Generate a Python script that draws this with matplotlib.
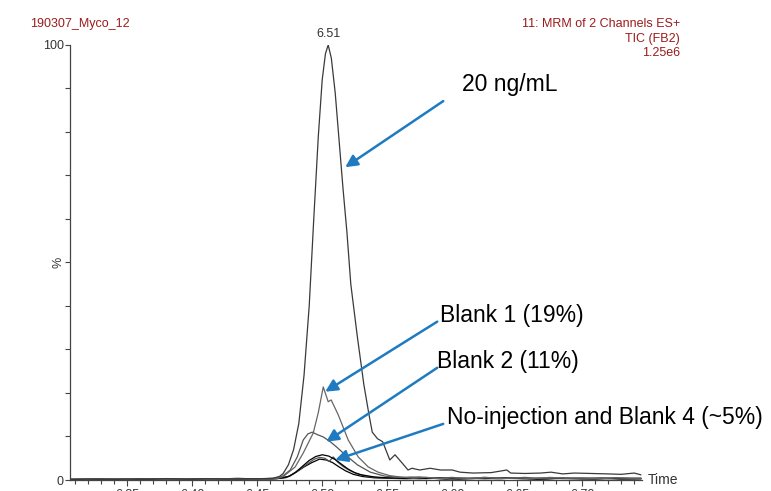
import matplotlib
matplotlib.use("Agg")
import matplotlib.pyplot as plt
from matplotlib.ticker import MultipleLocator, FixedLocator, NullFormatter

plt.rcParams['font.family'] = ['Liberation Sans', 'DejaVu Sans']

# 20 ng/mL standard
t_20 = [6.306, 6.320, 6.335, 6.350, 6.365, 6.380, 6.395, 6.410, 6.425, 6.440,
        6.452, 6.462, 6.467, 6.470, 6.474, 6.478, 6.482, 6.486, 6.490, 6.4935,
        6.497, 6.500, 6.5025, 6.5046, 6.507, 6.510, 6.513, 6.516, 6.519, 6.522,
        6.527, 6.532, 6.536, 6.5385, 6.5425, 6.5465, 6.552, 6.556, 6.5615, 6.566,
        6.569, 6.575, 6.583, 6.591, 6.600, 6.606, 6.616, 6.630, 6.642, 6.645,
        6.656, 6.668, 6.676, 6.685, 6.694, 6.707, 6.72, 6.73, 6.74, 6.745]
i_20 = [0.1, 0.2, 0.1, 0.2, 0.1, 0.3, 0.2, 0.3, 0.2, 0.3,
        0.3, 0.4, 0.8, 1.5, 3.5, 7.0, 13, 24, 40, 60,
        79, 92, 98, 100, 97, 89, 78, 67, 57, 45,
        33, 22, 15, 11, 9.5, 8.8, 4.6, 5.8, 3.9, 2.3,
        2.7, 2.3, 2.7, 2.3, 2.3, 1.8, 1.6, 1.7, 2.3, 1.6,
        1.5, 1.6, 1.8, 1.4, 1.6, 1.5, 1.4, 1.3, 1.6, 1.2]

# Blank 1
t_b1 = [6.306, 6.33, 6.36, 6.385, 6.40, 6.42, 6.44, 6.455, 6.465, 6.470,
        6.4792, 6.4854, 6.4931, 6.497, 6.5008, 6.5046, 6.5069, 6.5123, 6.520, 6.5277,
        6.5354, 6.543, 6.552, 6.56, 6.57, 6.58, 6.592, 6.60, 6.612, 6.625,
        6.638, 6.65, 6.662, 6.675, 6.688, 6.70, 6.712, 6.725, 6.738, 6.745]
i_b1 = [0.1, 0.2, 0.1, 0.2, 0.3, 0.1, 0.3, 0.2, 0.3, 0.8,
        3.0, 6.2, 10.8, 15.5, 21.4, 18.0, 18.4, 15.0, 9.2, 5.3,
        3.0, 1.8, 1.0, 0.7, 0.4, 0.6, 0.3, 0.5, 0.4, 0.6,
        0.3, 0.5, 0.3, 0.6, 0.4, 0.5, 0.3, 0.5, 0.4, 0.4]

# Blank 2
t_b2 = [6.306, 6.34, 6.37, 6.39, 6.41, 6.43, 6.45, 6.462, 6.466, 6.470,
        6.4754, 6.4808, 6.4854, 6.4890, 6.4923, 6.4965, 6.5008, 6.5062, 6.5110, 6.5162,
        6.527, 6.537, 6.548, 6.560, 6.575, 6.588, 6.60, 6.614, 6.628, 6.642,
        6.656, 6.67, 6.684, 6.698, 6.712, 6.726, 6.74, 6.745]
i_b2 = [0.2, 0.1, 0.2, 0.3, 0.2, 0.3, 0.2, 0.3, 0.5, 1.0,
        2.3, 5.3, 9.2, 10.6, 11.0, 10.4, 9.9, 8.8, 7.6, 6.2,
        3.5, 1.8, 0.9, 0.6, 0.7, 0.4, 0.6, 0.3, 0.5, 0.4,
        0.6, 0.3, 0.5, 0.4, 0.3, 0.5, 0.4, 0.4]

# No-injection
t_ni = [6.306, 6.33, 6.35, 6.37, 6.39, 6.405, 6.42, 6.44, 6.455, 6.465,
        6.470, 6.475, 6.480, 6.485, 6.490, 6.495, 6.500, 6.505, 6.510, 6.515,
        6.520, 6.525, 6.530, 6.540, 6.550, 6.562, 6.575, 6.59, 6.605, 6.62,
        6.635, 6.65, 6.665, 6.68, 6.695, 6.71, 6.725, 6.74, 6.745]
i_ni = [0.1, 0.2, 0.1, 0.2, 0.3, 0.1, 0.2, 0.3, 0.2, 0.3,
        0.5, 0.9, 1.9, 3.2, 4.5, 5.4, 5.8, 5.5, 4.7, 3.6,
        2.5, 1.7, 1.2, 0.7, 0.5, 0.4, 0.3, 0.5, 0.2, 0.4,
        0.3, 0.5, 0.2, 0.4, 0.3, 0.2, 0.4, 0.3, 0.3]

# Blank 3
t_b3 = [6.306, 6.34, 6.36, 6.38, 6.40, 6.42, 6.435, 6.45, 6.463, 6.472,
        6.478, 6.484, 6.490, 6.494, 6.498, 6.502, 6.5055, 6.5085, 6.512, 6.516,
        6.521, 6.527, 6.535, 6.545, 6.556, 6.568, 6.58, 6.595, 6.61, 6.625,
        6.64, 6.655, 6.67, 6.685, 6.70, 6.715, 6.73, 6.745]
i_b3 = [0.2, 0.1, 0.3, 0.2, 0.3, 0.2, 0.4, 0.2, 0.3, 0.5,
        1.4, 2.7, 4.0, 4.8, 5.2, 5.0, 4.3, 5.3, 4.1, 3.1,
        2.2, 1.4, 0.8, 0.5, 0.4, 0.6, 0.3, 0.5, 0.3, 0.6,
        0.4, 0.3, 0.5, 0.3, 0.4, 0.5, 0.3, 0.4]

# Blank 4
t_b4 = [6.306, 6.33, 6.355, 6.375, 6.395, 6.415, 6.435, 6.455, 6.466, 6.474,
        6.480, 6.486, 6.492, 6.498, 6.503, 6.508, 6.513, 6.518, 6.524, 6.531,
        6.54, 6.55, 6.565, 6.58, 6.595, 6.61, 6.625, 6.64, 6.655, 6.67,
        6.685, 6.70, 6.715, 6.73, 6.745]
i_b4 = [0.1, 0.2, 0.2, 0.1, 0.3, 0.2, 0.2, 0.3, 0.4, 0.8,
        1.8, 3.0, 4.0, 4.8, 4.6, 4.0, 3.0, 2.1, 1.3, 0.8,
        0.5, 0.4, 0.3, 0.5, 0.2, 0.4, 0.3, 0.5, 0.3, 0.2,
        0.4, 0.3, 0.4, 0.2, 0.3]

x_ticks = [6.35, 6.40, 6.45, 6.50, 6.55, 6.60, 6.65, 6.70]
x_ticklabels = ['6.35', '6.40', '6.45', '6.50', '6.55', '6.60', '6.65', '6.70']

dark_red = '#9c1c1c'
blue = '#1f7bc1'
axcol = '#444444'

fig = plt.figure(figsize=(7.71, 4.91), dpi=100)
ax = fig.add_axes([0.0908, 0.0224, 0.7419, 0.886])

ax.plot(t_b4, i_b4, color='black', lw=0.9)
ax.plot(t_b3, i_b3, color='#555555', lw=0.9)
ax.plot(t_ni, i_ni, color='black', lw=0.9)
ax.plot(t_b2, i_b2, color='#555555', lw=0.9)
ax.plot(t_b1, i_b1, color='#666666', lw=0.9)
ax.plot(t_20, i_20, color='#3a3a3a', lw=0.9)

ax.set_xlim(6.306, 6.746)
ax.set_ylim(0, 100)

for s in ['top', 'right']:
    ax.spines[s].set_visible(False)
for s in ['left', 'bottom']:
    ax.spines[s].set_color(axcol)
    ax.spines[s].set_linewidth(0.9)

ax.yaxis.set_major_locator(FixedLocator([0, 100]))
ax.yaxis.set_minor_locator(MultipleLocator(10))
ax.yaxis.set_minor_formatter(NullFormatter())
ax.tick_params(axis='y', which='both', direction='out', length=3.5, width=0.8,
               color=axcol, labelsize=9, labelcolor='#333333', pad=1)

ax.set_xticks(x_ticks)
ax.set_xticklabels(x_ticklabels)
ax.xaxis.set_minor_locator(MultipleLocator(0.01))
ax.tick_params(axis='x', which='major', direction='out', length=4.5, width=0.8,
               color=axcol, labelsize=9, labelcolor='#333333', pad=2)
ax.tick_params(axis='x', which='minor', direction='out', length=3, width=0.8,
               color=axcol)

ax.text(-0.02, 0.5, '%', transform=ax.transAxes, rotation=90, fontsize=9,
        color='#333333', ha='center', va='center')
ax.text(1.01, 0.0, 'Time', transform=ax.transAxes, fontsize=10,
        color='#333333', ha='left', va='center')

ax.text(6.5046, 101.2, '6.51', fontsize=9, color='#333333', ha='center',
        va='bottom', clip_on=False)

fig.text(30 / 771, 1 - 24 / 491, '190307_Myco_12', fontsize=9, color=dark_red,
         ha='left', va='center')
fig.text(680 / 771, 1 - 24 / 491, '11: MRM of 2 Channels ES+', fontsize=9,
         color=dark_red, ha='right', va='center')
fig.text(680 / 771, 1 - 39 / 491, 'TIC (FB2)', fontsize=9,
         color=dark_red, ha='right', va='center')
fig.text(680 / 771, 1 - 53 / 491, '1.25e6', fontsize=9,
         color=dark_red, ha='right', va='center')

# annotations: (label, text position, arrow tail, arrow head)
notes = [
    ('20 ng/mL', (6.6077, 90.8), (6.5931, 87.1), (6.5177, 71.9)),
    ('Blank 1 (19%)', (6.5908, 37.8), (6.5885, 36.4), (6.5023, 20.3)),
    ('Blank 2 (11%)', (6.5885, 27.2), (6.5885, 25.8), (6.5031, 8.8)),
    ('No-injection and Blank 4 (~5%)', (6.5962, 14.3), (6.5931, 12.9), (6.5100, 4.6)),
]
for label, tpos, tail, head in notes:
    ax.annotate('', xy=head, xytext=tail,
                arrowprops=dict(arrowstyle='-|>', color=blue, lw=1.8,
                                mutation_scale=18, shrinkA=0, shrinkB=0),
                annotation_clip=False)
    ax.text(tpos[0], tpos[1], label, fontsize=16.5, color='black',
            ha='left', va='center', clip_on=False)

fig.savefig('out.png', dpi=100)
